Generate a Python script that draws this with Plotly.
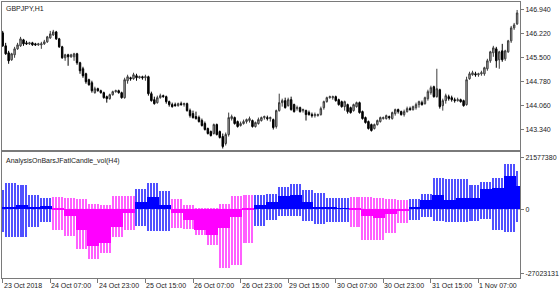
import plotly.graph_objects as go

SYMBOL_TITLE = "GBPJPY,H1"
IND_TITLE = "AnalysisOnBarsJFatlCandle_vol(H4)"

DATE_TICK_BARS = [0, 16, 32, 48, 64, 80, 96, 112, 128, 144, 160]
DATE_TICK_TEXT = ["23 Oct 2018", "24 Oct 07:00", "24 Oct 23:00", "25 Oct 15:00", "26 Oct 07:00",
                  "26 Oct 23:00", "29 Oct 15:00", "30 Oct 07:00", "30 Oct 23:00", "31 Oct 15:00",
                  "1 Nov 07:00"]
PRICE_TICKS = [146.940, 146.220, 145.500, 144.780, 144.060, 143.340]
IND_TICKS = [21577380, 0, -27023131]

OPEN = [146.235, 145.848, 145.639, 145.431, 145.580, 145.758, 145.848, 146.026, 145.937, 145.907,
        145.937, 145.907, 145.877, 145.877, 145.907, 145.967, 146.086, 146.175, 146.264, 146.056,
        145.818, 145.491, 145.580, 145.520, 145.520, 145.610, 145.342, 145.163, 145.014, 144.836,
        144.746, 144.449, 144.568, 144.508, 144.449, 144.330, 144.270, 144.389, 144.479, 144.508,
        144.449, 144.300, 144.806, 144.895, 144.866, 144.955, 144.895, 144.925, 144.895, 144.925,
        144.419, 144.240, 144.151, 144.300, 144.360, 144.330, 144.181, 144.092, 144.092, 144.062,
        144.121, 144.092, 144.121, 143.913, 143.824, 143.735, 143.705, 143.616, 143.526, 143.377,
        143.288, 143.229, 143.496, 143.288, 143.139, 142.931, 143.199, 143.675, 143.705, 143.586,
        143.467, 143.526, 143.586, 143.616, 143.616, 143.437, 143.526, 143.616, 143.705, 143.705,
        143.675, 143.645, 143.437, 143.913, 144.151, 144.211, 144.062, 144.240, 144.092, 143.973,
        144.002, 143.913, 143.913, 143.854, 143.794, 143.764, 143.764, 143.794, 144.002, 144.181,
        144.300, 144.300, 144.330, 144.240, 144.181, 144.032, 144.092, 144.002, 143.913, 144.032,
        144.151, 143.883, 143.705, 143.586, 143.496, 143.377, 143.496, 143.586, 143.675, 143.675,
        143.735, 143.675, 143.824, 143.943, 143.883, 143.794, 143.883, 143.973, 143.943, 144.002,
        144.092, 144.151, 144.121, 144.270, 144.449, 144.627, 144.330, 144.538, 144.062, 144.211,
        144.330, 144.300, 144.240, 144.211, 144.240, 144.211, 144.092, 144.866, 144.985, 145.014,
        144.985, 145.014, 145.014, 145.163, 145.401, 145.639, 145.758, 145.431, 145.699, 145.461,
        145.669, 145.997, 146.384, 146.503]

HIGH = [146.294, 145.937, 145.699, 145.639, 145.818, 145.937, 146.116, 146.056, 145.997, 145.967,
        145.967, 145.937, 145.937, 145.967, 146.026, 146.145, 146.294, 146.324, 146.294, 146.086,
        145.848, 145.610, 145.610, 145.610, 145.639, 145.639, 145.371, 145.223, 145.044, 144.866,
        144.806, 144.627, 144.598, 144.538, 144.479, 144.360, 144.419, 144.508, 144.538, 144.538,
        144.479, 144.895, 144.985, 144.925, 145.044, 145.014, 144.955, 144.955, 144.985, 144.955,
        144.479, 144.330, 144.360, 144.419, 144.389, 144.360, 144.211, 144.151, 144.151, 144.151,
        144.181, 144.151, 144.151, 143.973, 143.913, 143.883, 143.764, 143.675, 143.586, 143.407,
        143.318, 143.526, 143.526, 143.318, 143.229, 143.258, 143.854, 143.794, 143.735, 143.616,
        143.586, 143.645, 143.675, 143.735, 143.645, 143.586, 143.705, 143.735, 143.764, 143.764,
        143.735, 143.675, 143.943, 144.419, 144.270, 144.300, 144.300, 144.330, 144.121, 144.062,
        144.032, 143.973, 143.943, 143.913, 143.854, 143.854, 143.824, 144.032, 144.211, 144.330,
        144.360, 144.360, 144.360, 144.270, 144.211, 144.211, 144.121, 144.032, 144.121, 144.181,
        144.181, 143.913, 143.735, 143.616, 143.526, 143.526, 143.645, 143.735, 143.735, 143.794,
        143.764, 143.883, 143.973, 143.973, 143.913, 143.943, 144.032, 144.032, 144.062, 144.151,
        144.211, 144.211, 144.330, 144.538, 144.657, 144.657, 145.163, 144.568, 144.270, 144.419,
        144.389, 144.360, 144.300, 144.300, 144.270, 144.240, 144.925, 145.074, 145.104, 145.074,
        145.044, 145.104, 145.223, 145.461, 145.699, 145.848, 145.818, 145.699, 145.907, 145.729,
        146.026, 146.443, 146.532, 146.919]

LOW = [145.818, 145.580, 145.312, 145.401, 145.491, 145.729, 145.818, 145.848, 145.877, 145.877,
       145.848, 145.848, 145.848, 145.758, 145.877, 145.937, 146.056, 146.145, 146.026, 145.788,
       145.461, 145.401, 145.252, 145.491, 145.401, 145.282, 145.014, 144.895, 144.717, 144.657,
       144.449, 144.419, 144.479, 144.419, 144.270, 144.151, 144.240, 144.360, 144.449, 144.419,
       144.270, 144.270, 144.717, 144.806, 144.836, 144.806, 144.866, 144.836, 144.806, 144.360,
       144.181, 144.092, 144.121, 144.270, 144.300, 144.121, 144.032, 144.002, 144.032, 144.032,
       144.062, 144.032, 143.883, 143.705, 143.675, 143.645, 143.556, 143.437, 143.318, 143.199,
       143.139, 143.199, 143.169, 143.080, 142.782, 142.872, 143.139, 143.616, 143.496, 143.407,
       143.437, 143.496, 143.526, 143.556, 143.407, 143.407, 143.496, 143.586, 143.645, 143.616,
       143.586, 143.348, 143.377, 143.883, 144.032, 143.973, 144.032, 143.913, 143.854, 143.913,
       143.854, 143.854, 143.616, 143.764, 143.705, 143.705, 143.735, 143.764, 143.943, 144.151,
       144.270, 144.240, 144.181, 144.062, 144.002, 143.913, 143.824, 143.824, 143.883, 144.002,
       143.824, 143.645, 143.526, 143.348, 143.288, 143.348, 143.467, 143.556, 143.645, 143.645,
       143.645, 143.645, 143.764, 143.824, 143.764, 143.735, 143.854, 143.913, 143.913, 143.943,
       144.002, 144.062, 144.092, 144.211, 144.389, 144.300, 144.300, 143.973, 143.913, 144.121,
       144.211, 144.181, 144.151, 144.181, 144.151, 144.032, 144.062, 144.836, 144.955, 144.925,
       144.925, 144.955, 144.955, 145.104, 145.342, 145.520, 145.193, 145.163, 145.371, 145.401,
       145.639, 145.937, 146.324, 146.473]

CLOSE = [145.848, 145.610, 145.401, 145.610, 145.758, 145.877, 146.056, 145.907, 145.907, 145.937,
         145.877, 145.877, 145.907, 145.907, 145.967, 146.116, 146.205, 146.264, 146.056, 145.818,
         145.491, 145.580, 145.520, 145.580, 145.610, 145.342, 145.104, 144.955, 144.776, 144.687,
         144.508, 144.568, 144.508, 144.449, 144.300, 144.270, 144.389, 144.479, 144.508, 144.449,
         144.300, 144.836, 144.925, 144.866, 144.985, 144.895, 144.925, 144.895, 144.925, 144.419,
         144.211, 144.121, 144.300, 144.360, 144.330, 144.181, 144.092, 144.032, 144.062, 144.121,
         144.092, 144.121, 143.913, 143.764, 143.705, 143.675, 143.586, 143.467, 143.348, 143.229,
         143.169, 143.496, 143.199, 143.110, 142.842, 143.199, 143.705, 143.735, 143.526, 143.437,
         143.526, 143.586, 143.645, 143.675, 143.437, 143.556, 143.645, 143.705, 143.735, 143.675,
         143.705, 143.407, 143.913, 144.151, 144.211, 144.002, 144.240, 143.943, 143.883, 144.002,
         143.883, 143.943, 143.794, 143.794, 143.764, 143.794, 143.794, 143.973, 144.181, 144.300,
         144.330, 144.330, 144.211, 144.092, 144.032, 144.181, 143.883, 143.854, 144.092, 144.151,
         143.854, 143.675, 143.556, 143.377, 143.318, 143.496, 143.616, 143.705, 143.705, 143.764,
         143.705, 143.854, 143.943, 143.883, 143.794, 143.883, 143.973, 143.943, 144.032, 144.092,
         144.181, 144.092, 144.300, 144.479, 144.598, 144.330, 144.568, 144.032, 144.211, 144.360,
         144.270, 144.240, 144.211, 144.240, 144.181, 144.062, 144.836, 145.014, 145.044, 144.985,
         145.014, 145.044, 145.193, 145.401, 145.669, 145.788, 145.401, 145.669, 145.431, 145.699,
         145.997, 146.384, 146.473, 146.830]

# H4 indicator, one entry per H4 block (first block is the partial one that ends at bar 0)
H4_VALUE = [800000, 960000, 1680000, 960000, 1380000, -710000, -3230000, -9090000, -15630000,
            -14250000, -7670000, -1970000, 2930000, 5030000, 1800000, -1680000, -4900000,
            -9090000, -10890000, -8250000, -3480000, -200000, 1680000, 2930000, 5570000, 5990000,
            2930000, 960000, 710000, 300000, -300000, -3060000, -3900000, -2390000, -840000,
            840000, 3770000, 5990000, 3770000, 4730000, 4730000, 8250000, 8800000, 13830000,
            9430000]
H4_UPPER = [7960000, 10890000, 9930000, 5870000, 4610000, 4900000, 4610000, 4190000, 2100000,
            1680000, 5320000, 5320000, 8380000, 10890000, 7420000, 4320000, 1550000, 420000,
            200000, 2100000, 5320000, 5990000, 5740000, 6410000, 9090000, 10480000, 8090000,
            6700000, 4730000, 4610000, 5030000, 5030000, 4730000, 4320000, 3770000, 4190000,
            6410000, 12860000, 12570000, 12570000, 10180000, 11310000, 12860000, 18860000,
            15920000]
H4_LOWER = [-9640000, -11730000, -11730000, -7670000, -5740000, -8920000, -11440000, -16760000,
            -21240000, -18440000, -11730000, -9090000, -7420000, -9510000, -9340000, -8250000,
            -8670000, -11020000, -15210000, -24720000, -23760000, -14540000, -7250000, -4730000,
            -3060000, -3230000, -5320000, -6290000, -5570000, -5570000, -7670000, -12990000,
            -13280000, -10350000, -6160000, -4730000, -3350000, -5150000, -5570000, -5740000,
            -5320000, -4480000, -9090000, -9930000, -5740000]

N = len(CLOSE)
BARS = list(range(N))
H4_LEN = 4
H4_OFFSET = -3  # first block covers bars -3..0

BLUE, MAG = "#0000FF", "#FF00FF"
BLUE_L, MAG_L = "#5050FF", "#FF60FF"

# expand H4 blocks into H1 thin lines
thin_x, thin_base, thin_len, thin_col = [], [], [], []
thick_x, thick_val, thick_col = [], [], []
for g, v in enumerate(H4_VALUE):
    first = H4_OFFSET + g * H4_LEN
    thick_x.append(first + (H4_LEN - 1) / 2)
    thick_val.append(v)
    thick_col.append(BLUE if v > 0 else MAG)
    for b in range(first, first + H4_LEN):
        if 0 <= b < N:
            thin_x.append(b)
            thin_base.append(H4_LOWER[g])
            thin_len.append(H4_UPPER[g] - H4_LOWER[g])
            thin_col.append(BLUE_L if v > 0 else MAG_L)

FONT = "Liberation Sans"
TXT = "#1a1a1a"
AX = "#7a7a7a"

fig = go.Figure()
fig.add_trace(go.Candlestick(
    x=BARS, open=OPEN, high=HIGH, low=LOW, close=CLOSE,
    xaxis="x", yaxis="y",
    increasing=dict(line=dict(color="#3c3c3c", width=1), fillcolor="#b4b4b4"),
    decreasing=dict(line=dict(color="#000000", width=1), fillcolor="#000000"),
    whiskerwidth=0, showlegend=False, hoverinfo="skip"))

fig.add_trace(go.Bar(x=thin_x, y=thin_len, base=thin_base, width=0.36,
                     marker=dict(color=thin_col, line=dict(width=0)),
                     xaxis="x2", yaxis="y2", showlegend=False, hoverinfo="skip"))
fig.add_trace(go.Bar(x=thick_x, y=thick_val, base=0, width=H4_LEN,
                     marker=dict(color=thick_col, line=dict(width=0)),
                     xaxis="x2", yaxis="y2", showlegend=False, hoverinfo="skip"))

XR = [-0.234, 173.97]
common_x = dict(range=XR, showgrid=False, zeroline=False, showline=True, mirror=True,
                linecolor=AX, linewidth=1)
fig.update_layout(
    width=560, height=294,
    margin=dict(l=1, r=39, t=1, b=16, pad=0),
    paper_bgcolor="white", plot_bgcolor="white",
    barmode="overlay", bargap=0,
    font=dict(family=FONT, size=7, color=TXT),
    xaxis=dict(**common_x, domain=[0, 1], anchor="y", showticklabels=False, ticks="",
               rangeslider=dict(visible=False)),
    xaxis2=dict(**common_x, domain=[0, 1], anchor="y2", matches="x", showticklabels=False,
                ticks="outside", ticklen=4, tickcolor=AX, tickvals=DATE_TICK_BARS),
    yaxis=dict(domain=[0.4621, 1], range=[142.723, 147.157], side="right",
               showgrid=False, zeroline=False, showline=True, mirror=True, linecolor=AX,
               ticks="outside", ticklen=3, tickcolor=AX, tickvals=PRICE_TICKS,
               ticktext=[f"{v:.3f}" for v in PRICE_TICKS],
               tickfont=dict(family=FONT, size=7, color=TXT)),
    yaxis2=dict(domain=[0, 0.4549], range=[-28908496, 23881715], side="right",
                showgrid=False, zeroline=False, showline=True, mirror=True, linecolor=AX,
                ticks="outside", ticklen=3, tickcolor=AX, tickvals=IND_TICKS,
                ticktext=[str(v) for v in IND_TICKS],
                tickfont=dict(family=FONT, size=7, color=TXT)),
    hovermode=False,
)

fig.add_shape(type="line", xref="x2", yref="y2", x0=XR[0], x1=XR[1], y0=0, y1=0,
              line=dict(color="#9a9ab4", width=1, dash="dot"), layer="below")

for b, t in zip(DATE_TICK_BARS, DATE_TICK_TEXT):
    fig.add_annotation(x=b, y=0, xref="x2", yref="paper", text=t, showarrow=False,
                       xanchor="left", yanchor="top", yshift=-2, xshift=-1,
                       font=dict(family=FONT, size=7, color=TXT))

fig.add_annotation(x=0, y=1, xref="paper", yref="paper", text=SYMBOL_TITLE, showarrow=False,
                   xanchor="left", yanchor="top", xshift=2, yshift=-1,
                   font=dict(family=FONT, size=7, color=TXT))
fig.add_annotation(x=0, y=0.4549, xref="paper", yref="paper", text=IND_TITLE, showarrow=False,
                   xanchor="left", yanchor="top", xshift=2, yshift=-3,
                   font=dict(family=FONT, size=7, color=TXT))

fig.write_html("out.html")
